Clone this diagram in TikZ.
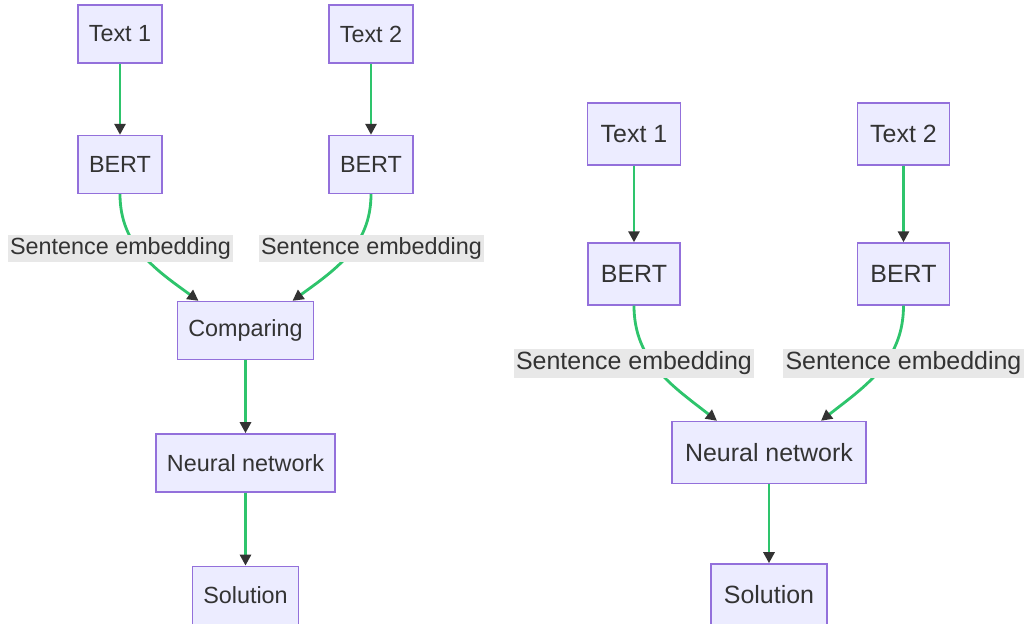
\documentclass[tikz,border=0pt]{standalone}
\usepackage{fontspec}
\setmainfont{Liberation Sans}
\usepackage{xcolor}
\usetikzlibrary{positioning,arrows.meta}
\definecolor{boxfill}{HTML}{ECECFF}
\definecolor{boxline}{HTML}{9370DB}
\definecolor{txt}{HTML}{333333}
\definecolor{flowgreen}{HTML}{2EC46C}
\definecolor{lblfill}{HTML}{E8E8E8}

\begin{document}
\begin{tikzpicture}[
  box/.style={draw=boxline, fill=boxfill, text=txt, line width=0.8pt, minimum height=1.16cm, inner xsep=0.22cm, font=\fontsize{13.3}{15}\selectfont},
  bigbox/.style={box, minimum height=1.24cm, inner xsep=0.26cm, font=\fontsize{14.2}{16}\selectfont},
  lbl/.style={fill=lblfill, text=txt, inner xsep=1.2pt, inner ysep=1.6pt, font=\fontsize{13.3}{15}\selectfont},
  biglbl/.style={lbl, font=\fontsize{14.2}{16}\selectfont},
  arr/.style={draw=flowgreen, line width=1.6pt, -{Triangle[length=2.2mm, width=2.2mm, color=txt]}}
]
\useasboundingbox (0,0) rectangle (20.54,-12.46);
% with a comparing step
\node[box] (t1) at (2.40,-0.68) {Text 1};
\node[box] (t2) at (7.42,-0.68) {Text 2};
\node[box] (b1) at (2.40,-3.29) {BERT};
\node[box] (b2) at (7.42,-3.29) {BERT};
\node[box] (cmp) at (4.91,-6.61) {Comparing};
\node[box, below=1.46cm of cmp] (nn1) {Neural network};
\node[box, below=1.46cm of nn1] (sol1) {Solution};
\draw[arr] (t1) -- (b1);
\draw[arr] (t2) -- (b2);
\draw[arr] (b1.south) to[out=-90, in=144] ([xshift=-0.94cm]cmp.north);
\draw[arr] (b2.south) to[out=-90, in=36] ([xshift=0.94cm]cmp.north);
\draw[arr] (cmp) -- (nn1);
\draw[arr] (nn1) -- (sol1);
\node[lbl] (e1) at (2.41,-4.97) {Sentence embedding};
\node[lbl] (e2) at (7.43,-4.97) {Sentence embedding};
% embeddings straight into the network
\node[bigbox] (t3) at (12.68,-2.68) {Text 1};
\node[bigbox] (t4) at (18.07,-2.68) {Text 2};
\node[bigbox] (b3) at (12.68,-5.48) {BERT};
\node[bigbox] (b4) at (18.07,-5.48) {BERT};
\node[bigbox] (nn2) at (15.38,-9.05) {Neural network};
\node[bigbox, below=1.58cm of nn2] (sol2) {Solution};
\draw[arr] (t3) -- (b3);
\draw[arr] (t4) -- (b4);
\draw[arr] (b3.south) to[out=-90, in=142] ([xshift=-1.04cm]nn2.north);
\draw[arr] (b4.south) to[out=-90, in=38] ([xshift=1.04cm]nn2.north);
\draw[arr] (nn2) -- (sol2);
\node[biglbl] (e3) at (12.68,-7.27) {Sentence embedding};
\node[biglbl] (e4) at (18.07,-7.27) {Sentence embedding};
\end{tikzpicture}
\end{document}
